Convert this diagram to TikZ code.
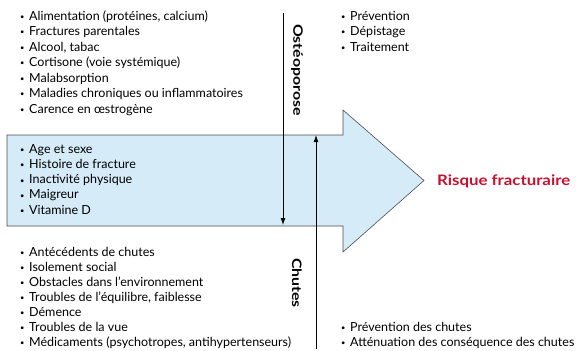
\documentclass[tikz,border=0pt]{standalone}
\usepackage{fontspec}
\setmainfont{Lato}
\usetikzlibrary{arrows.meta}

\definecolor{arrowfill}{HTML}{D6EBF8}
\definecolor{riskred}{HTML}{C8102E}
\newcommand{\puce}{\makebox[9pt][l]{\raisebox{0.1ex}{\scalebox{0.6}{\textbullet}}}}

\begin{document}
\begin{tikzpicture}[x=1pt,y=-1pt,
		item/.style={anchor=west, inner sep=0pt, text height=1.6ex, text depth=0.4ex, font=\fontsize{12.5}{14}\selectfont},
		axe label/.style={rotate=-90, inner sep=0pt, font=\fontsize{13}{15}\selectfont\bfseries},
		axe line/.style={line width=0.9pt, -{Latex[length=7pt,width=5pt]}},
	]
	\useasboundingbox (0,0) rectangle (579,351);

	% grande fleche
	\draw[fill=arrowfill, draw=black!70, line width=0.6pt]
		(7,135) -- (343,135) -- (343,110) -- (424,180.5) -- (343,252) -- (343,226) -- (7,226) -- cycle;
	\node[anchor=west, inner sep=0pt, text=riskred, font=\fontsize{14.5}{16}\selectfont\bfseries] (risque) at (437,181) {\scalebox{1.16}[1]{Risque fracturaire}};

	% facteurs osteoporose
	\foreach \t [count=\i] in {{Alimentation (protéines, calcium)}, Fractures parentales, {Alcool, tabac},
		Cortisone (voie systémique), Malabsorption, Maladies chroniques ou inflammatoires, Carence en œstrogène}
		\node[item] (os\i) at (20,{17+15.5*(\i-1)}) {\puce\t};

	% facteurs communs
	\foreach \t [count=\i] in {Age et sexe, Histoire de fracture, Inactivité physique, Maigreur, Vitamine D}
		\node[item] (co\i) at (20,{150+15.3*(\i-1)}) {\puce\t};

	% facteurs chutes
	\foreach \t [count=\i] in {Antécédents de chutes, Isolement social, Obstacles dans l’environnement,
		{Troubles de l’équilibre, faiblesse}, Démence, Troubles de la vue, {Médicaments (psychotropes, antihypertenseurs)}}
		\node[item] (ch\i) at (20,{253+15*(\i-1)}) {\puce\t};

	% actions
	\foreach \t [count=\i] in {Prévention, Dépistage, Traitement}
		\node[item] (ao\i) at (341,{17+15.5*(\i-1)}) {\puce\t};
	\foreach \t [count=\i] in {Prévention des chutes, Atténuation des conséquence des chutes}
		\node[item] (ac\i) at (341,{328+15*(\i-1)}) {\puce\t};

	% axes
	\coordinate (osA) at (283,13);
	\coordinate (osB) at (283,225);
	\coordinate (chA) at (316,349);
	\coordinate (chB) at (316,135);
	\draw[axe line] (osA) -- (osB);
	\draw[axe line] (chA) -- (chB);
	\node[axe label] (ostlab) at (297,70) {\scalebox{1.22}[1]{Ostéoporose}};
	\node[axe label] (chlab) at (297,283) {\scalebox{1.22}[1]{Chutes}};
\end{tikzpicture}
\end{document}
